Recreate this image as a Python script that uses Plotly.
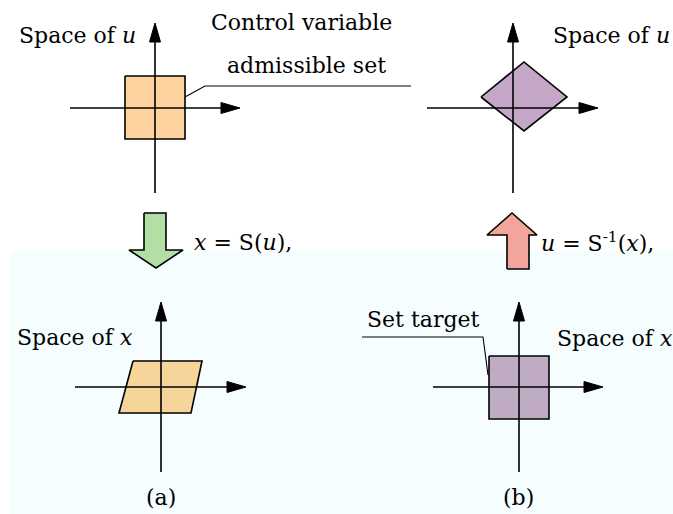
import plotly.graph_objects as go

W, H = 673, 514

# ---- geometry of the diagram (pixel-like data units, y downward) ----
axis_v_x = [155, 513, 161, 519]
axis_v_top = [23, 23, 302, 302]
axis_v_bottom = [193, 193, 472, 472]
axis_h_y = [108, 108, 387, 387]
axis_h_left = [70, 427, 75, 433]
axis_h_right = [240, 598, 246, 603]

square_u_x = [125, 185, 185, 125, 125]
square_u_y = [76, 76, 139, 139, 76]
diamond_x = [481, 524, 567, 524, 481]
diamond_y = [97, 62, 97, 131, 97]
para_x = [133, 202, 191, 119, 133]
para_y = [361, 361, 413, 413, 361]
target_x = [489, 549, 549, 489, 489]
target_y = [356, 356, 419, 419, 356]

green_x = [144, 166, 166, 183, 156, 129, 144, 144]
green_y = [213, 213, 250, 250, 268, 250, 250, 213]
red_x = [507, 529, 529, 537, 512, 487, 507, 507]
red_y = [269, 269, 235, 235, 213, 235, 235, 269]

leader1_x = [185, 205, 411]
leader1_y = [97, 86, 86]
leader2_x = [362, 483, 488]
leader2_y = [337, 337, 375]

labels = ["Space of <i>u</i>", "Control variable", "admissible set", "Space of <i>u</i>",
          "<i>x</i> = S(<i>u</i>),", "<i>u</i> = S<sup>-1</sup>(<i>x</i>),",
          "Space of <i>x</i>", "Set target", "Space of <i>x</i>", "(a)", "(b)"]
label_x = [17, 301, 306, 551, 192, 539, 15, 365, 555, 161, 518]
label_y = [35, 22, 65, 35, 242, 242, 337, 319, 338, 497, 497]
label_anchor = ["left", "center", "center", "left", "left", "left", "left", "left", "left", "center", "center"]

fills = [
    (square_u_x, square_u_y, "#fdd49f"),
    (diamond_x, diamond_y, "#c4a6c7"),
    (para_x, para_y, "#f6d59b"),
    (target_x, target_y, "#c0abc4"),
    (green_x, green_y, "#b4dfa4"),
    (red_x, red_y, "#f2a59a"),
]

fig = go.Figure()

for xs, ys, col in fills:
    fig.add_trace(go.Scatter(x=xs, y=ys, mode="lines", fill="toself", fillcolor=col,
                             line=dict(color="black", width=1.6), hoverinfo="skip"))

# axes lines
for i in range(4):
    fig.add_trace(go.Scatter(x=[axis_v_x[i], axis_v_x[i]], y=[axis_v_top[i] + 10, axis_v_bottom[i]],
                             mode="lines", line=dict(color="black", width=1.6), hoverinfo="skip"))
    fig.add_trace(go.Scatter(x=[axis_h_left[i], axis_h_right[i] - 10], y=[axis_h_y[i], axis_h_y[i]],
                             mode="lines", line=dict(color="black", width=1.6), hoverinfo="skip"))
    # arrow heads
    vx, vt = axis_v_x[i], axis_v_top[i]
    fig.add_trace(go.Scatter(x=[vx, vx + 5.5, vx - 5.5, vx], y=[vt, vt + 19, vt + 19, vt],
                             mode="lines", fill="toself", fillcolor="black",
                             line=dict(color="black", width=1), hoverinfo="skip"))
    hy, hr = axis_h_y[i], axis_h_right[i]
    fig.add_trace(go.Scatter(x=[hr, hr - 19, hr - 19, hr], y=[hy, hy - 5.5, hy + 5.5, hy],
                             mode="lines", fill="toself", fillcolor="black",
                             line=dict(color="black", width=1), hoverinfo="skip"))

for lx, ly in [(leader1_x, leader1_y), (leader2_x, leader2_y)]:
    fig.add_trace(go.Scatter(x=lx, y=ly, mode="lines", line=dict(color="black", width=1.1),
                             hoverinfo="skip"))

for t, x, y, a in zip(labels, label_x, label_y, label_anchor):
    fig.add_annotation(x=x, y=y, text=t, showarrow=False, xanchor=a, yanchor="middle",
                       font=dict(family="DejaVu Serif", size=22, color="black"))

fig.add_shape(type="rect", x0=10, y0=251, x1=W, y1=H, fillcolor="#f5fdfe",
              line=dict(width=0), layer="below")

fig.update_layout(
    width=W, height=H, margin=dict(l=0, r=0, t=0, b=0),
    paper_bgcolor="white", plot_bgcolor="white", showlegend=False,
    xaxis=dict(range=[0, W], visible=False, fixedrange=True),
    yaxis=dict(range=[H, 0], visible=False, fixedrange=True),
)

fig.write_html("out.html", config={"displayModeBar": False},
               post_script="document.body.style.margin='0';document.body.style.overflow='hidden';")
